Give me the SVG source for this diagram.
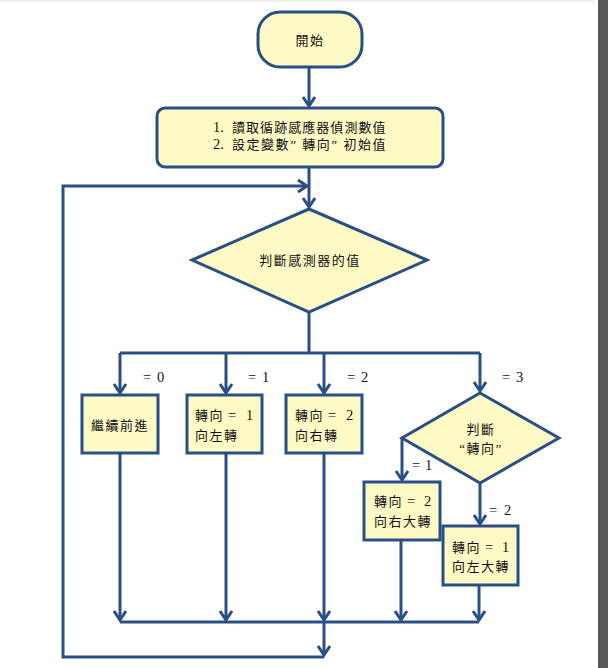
<svg xmlns="http://www.w3.org/2000/svg" width="608" height="668" viewBox="0 0 608 668">
<style>
.shape{fill:#fdfac6;stroke:#2a4f85;stroke-width:3}
.ln{fill:none;stroke:#2a4f85;stroke-width:3}
.t{font-family:"Liberation Serif","Noto Sans CJK TC",serif;font-size:13px;fill:#111;letter-spacing:1.5px}
.n{font-size:14.5px;letter-spacing:0}
.c{text-anchor:middle}
</style>
<defs>
<marker id="arr" markerUnits="userSpaceOnUse" markerWidth="16" markerHeight="16" viewBox="0 0 16 16" refX="13" refY="8" orient="auto">
<path d="M4,2 L13,8 L4,14" fill="none" stroke="#2a4f85" stroke-width="3"/>
</marker>
</defs>
<rect x="0" y="0" width="608" height="668" fill="#ffffff"/>
<rect x="0" y="0" width="594" height="2" fill="#efefef"/>
<rect x="598" y="0" width="10" height="668" fill="#5a5a5a"/>

<g id="connectors">
<path class="ln" d="M309,67 L309,106" marker-end="url(#arr)"/>
<path class="ln" d="M309,167 L309,207" marker-end="url(#arr)"/>
<path class="ln" d="M309,312 L309,353"/>
<path class="ln" d="M120,353 L480,353"/>
<path class="ln" d="M120,353 L120,393" marker-end="url(#arr)"/>
<path class="ln" d="M226,353 L226,393" marker-end="url(#arr)"/>
<path class="ln" d="M324,353 L324,393" marker-end="url(#arr)"/>
<path class="ln" d="M480,353 L480,391" marker-end="url(#arr)"/>
<path class="ln" d="M402,438 L402,480" marker-end="url(#arr)"/>
<path class="ln" d="M480,483 L480,524" marker-end="url(#arr)"/>
<path class="ln" d="M120,453 L120,620" marker-end="url(#arr)"/>
<path class="ln" d="M226,453 L226,620" marker-end="url(#arr)"/>
<path class="ln" d="M324,453 L324,620" marker-end="url(#arr)"/>
<path class="ln" d="M401,540 L401,620" marker-end="url(#arr)"/>
<path class="ln" d="M479,585 L479,620" marker-end="url(#arr)"/>
<path class="ln" d="M120,622 L479,622"/>
<path class="ln" d="M324,622 L324,655" marker-end="url(#arr)"/>
<path class="ln" d="M324,657 L63,657 L63,186 L307,186" marker-end="url(#arr)"/>
<text class="t n" y="382"><tspan x="143">=</tspan><tspan x="157">0</tspan></text>
<text class="t n" y="382"><tspan x="248">=</tspan><tspan x="262">1</tspan></text>
<text class="t n" y="382"><tspan x="347">=</tspan><tspan x="361">2</tspan></text>
<text class="t n" y="382"><tspan x="502">=</tspan><tspan x="516">3</tspan></text>
<text class="t n" y="470"><tspan x="412">=</tspan><tspan x="425">1</tspan></text>
<text class="t n" y="515"><tspan x="489">=</tspan><tspan x="504">2</tspan></text>
</g>

<g id="start">
<rect class="shape" x="258" y="12" width="104" height="55" rx="22"/>
<text class="t c" x="310" y="45">開始</text>
</g>

<g id="init">
<rect class="shape" x="157" y="108" width="286" height="59" rx="8"/>
<text class="t" y="132"><tspan class="n" x="213">1.</tspan><tspan x="232" textLength="155" lengthAdjust="spacing">讀取循跡感應器偵測數值</tspan></text>
<text class="t" y="149"><tspan class="n" x="213">2.</tspan><tspan x="232" textLength="155" lengthAdjust="spacing">設定變數” 轉向” 初始值</tspan></text>
</g>

<g id="decide1">
<polygon class="shape" points="309,209 427,260 309,312 192,260"/>
<text class="t c" x="310" y="265">判斷感測器的值</text>
</g>

<g id="forward">
<rect class="shape" x="82" y="395" width="76" height="58"/>
<text class="t c" x="120" y="430">繼續前進</text>
</g>

<g id="left">
<rect class="shape" x="187" y="395" width="75" height="58"/>
<text class="t" y="420"><tspan x="195">轉向</tspan><tspan class="n" x="228">=</tspan><tspan class="n" x="246">1</tspan></text>
<text class="t" x="195" y="440">向左轉</text>
</g>

<g id="right">
<rect class="shape" x="286" y="395" width="76" height="58"/>
<text class="t" y="420"><tspan x="295">轉向</tspan><tspan class="n" x="328">=</tspan><tspan class="n" x="346">2</tspan></text>
<text class="t" x="295" y="440">向右轉</text>
</g>

<g id="decide2">
<polygon class="shape" points="480,393 559,438 480,483 402,438"/>
<text class="t c" x="481" y="434">判斷</text>
<text class="t c" x="481" y="453">“轉向”</text>
</g>

<g id="bigright">
<rect class="shape" x="364" y="482" width="76" height="58"/>
<text class="t" y="506"><tspan x="374">轉向</tspan><tspan class="n" x="407">=</tspan><tspan class="n" x="424">2</tspan></text>
<text class="t" x="374" y="526">向右大轉</text>
</g>

<g id="bigleft">
<rect class="shape" x="443" y="526" width="75" height="59"/>
<text class="t" y="552"><tspan x="452">轉向</tspan><tspan class="n" x="485">=</tspan><tspan class="n" x="502">1</tspan></text>
<text class="t" x="452" y="571">向左大轉</text>
</g>
</svg>
